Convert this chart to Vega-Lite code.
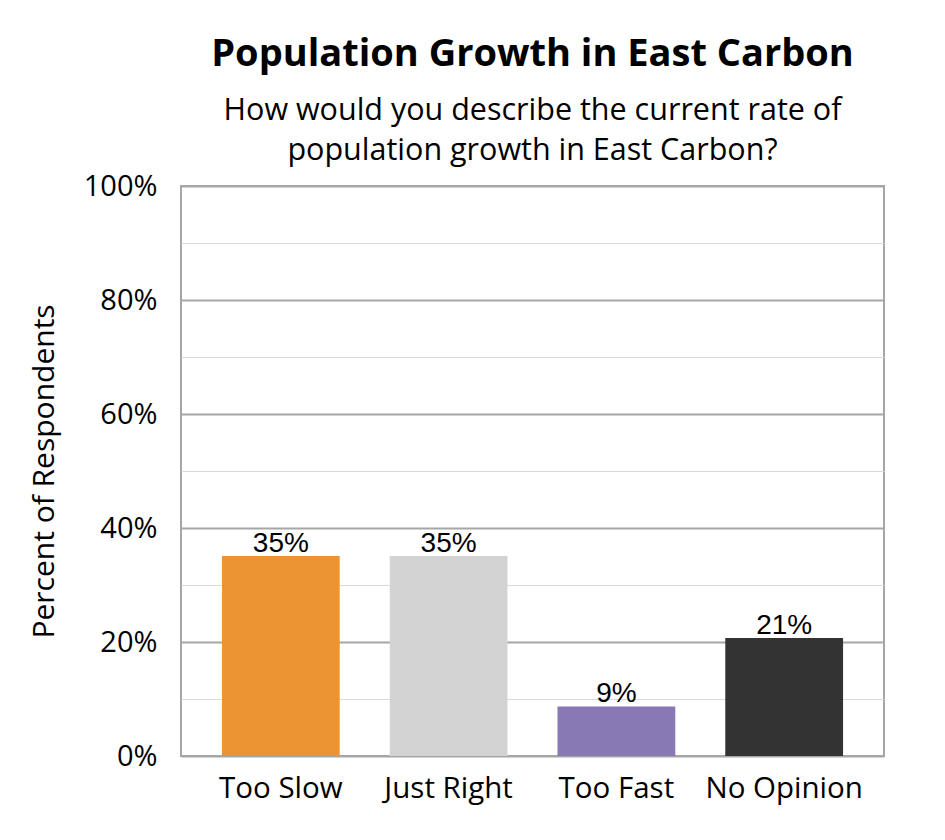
{
  "$schema": "https://vega.github.io/schema/vega-lite/v6.json",
  "autosize": "none",
  "width": 703,
  "height": 570,
  "padding": {"left": 181, "top": 186, "right": 61, "bottom": 84},
  "background": "white",
  "title": {
    "text": "Population Growth in East Carbon",
    "subtitle": ["How would you describe the current rate of", "population growth in East Carbon?"],
    "anchor": "middle",
    "frame": "group",
    "font": "Open Sans",
    "fontSize": 38,
    "fontWeight": "bold",
    "color": "black",
    "subtitleFont": "Open Sans",
    "subtitleFontSize": 30.5,
    "subtitleColor": "black",
    "subtitleLineHeight": 40,
    "subtitlePadding": 22,
    "offset": 6
  },
  "config": {
    "view": {"stroke": "#a6a6a6", "strokeWidth": 2}
  },
  "data": {
    "values": [
      {"category": "Too Slow", "pct": 0.351, "color": "#EC9434"},
      {"category": "Just Right", "pct": 0.351, "color": "#D3D3D3"},
      {"category": "Too Fast", "pct": 0.087, "color": "#8878B4"},
      {"category": "No Opinion", "pct": 0.207, "color": "#333333"}
    ]
  },
  "encoding": {
    "x": {
      "field": "category",
      "type": "nominal",
      "sort": null,
      "scale": {"paddingInner": 0.298, "paddingOuter": 0.244},
      "axis": {
        "title": null,
        "labelAngle": 0,
        "labelFont": "Open Sans",
        "labelFontSize": 29.5,
        "labelColor": "black",
        "labelPadding": 18,
        "ticks": false,
        "domain": false
      }
    },
    "y": {
      "field": "pct",
      "type": "quantitative",
      "scale": {"domain": [0, 1], "nice": false},
      "axis": {
        "title": "Percent of Respondents",
        "titleFont": "Open Sans",
        "titleFontSize": 30,
        "titleFontWeight": "normal",
        "titleColor": "black",
        "titlePadding": 24,
        "values": [0, 0.1, 0.2, 0.3, 0.4, 0.5, 0.6, 0.7, 0.8, 0.9, 1],
        "labelExpr": "round(datum.value*100) % 20 === 0 ? round(datum.value*100) + '%' : ''",
        "labelFont": "Open Sans",
        "labelFontSize": 29,
        "labelColor": "black",
        "labelPadding": 24,
        "ticks": false,
        "domain": false,
        "grid": true,
        "gridColor": {"condition": {"test": "round(datum.value*100) % 20 === 0", "value": "#a6a6a6"}, "value": "#d9d9d9"},
        "gridWidth": {"condition": {"test": "round(datum.value*100) % 20 === 0", "value": 2}, "value": 1}
      }
    }
  },
  "layer": [
    {
      "mark": {"type": "bar"},
      "encoding": {
        "color": {"field": "color", "type": "nominal", "scale": null, "legend": null}
      }
    },
    {
      "mark": {"type": "text", "baseline": "alphabetic", "dy": -4, "font": "Liberation Sans", "fontSize": 28, "color": "black"},
      "encoding": {
        "text": {"field": "pct", "type": "quantitative", "format": ".0%"}
      }
    }
  ]
}
